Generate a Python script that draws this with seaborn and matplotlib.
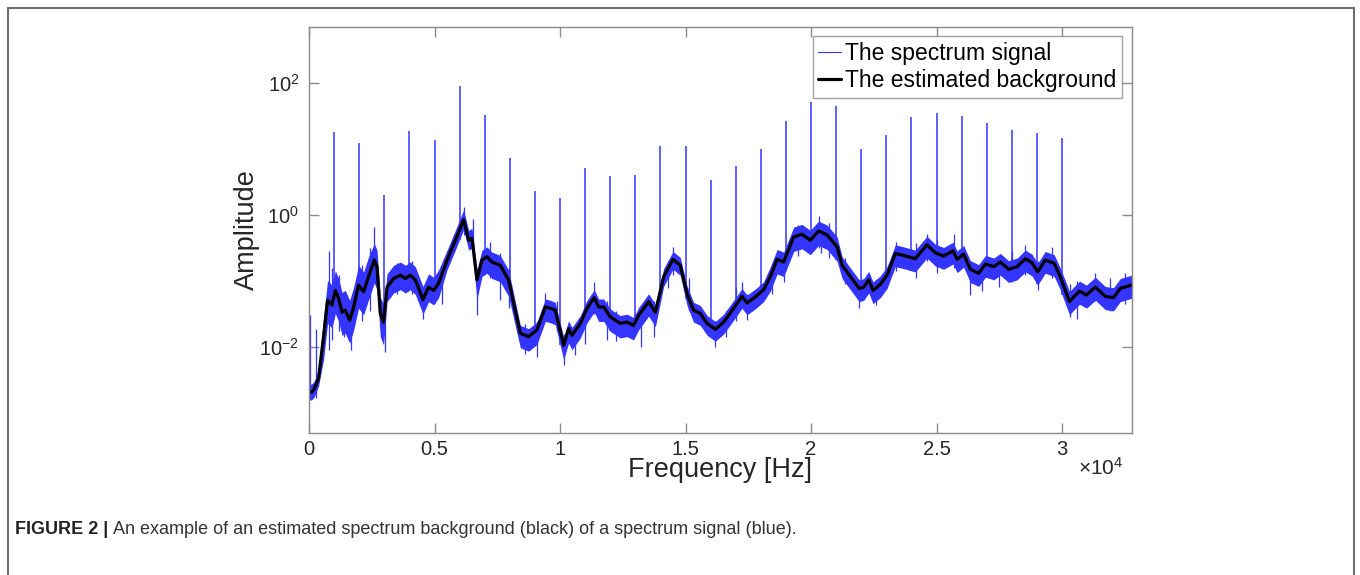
import numpy as np
import pandas as pd
import matplotlib
matplotlib.use("Agg")
import matplotlib.pyplot as plt
import seaborn as sns
from matplotlib.patches import Rectangle

# Estimated background (black), log10 of amplitude
bg_freq = [0, 100, 200, 380, 580, 740, 915, 1050, 1180, 1315, 1445, 1620, 1780, 1975,
           2175, 2375, 2600, 2710, 2840, 2970, 3110, 3370, 3640, 3840, 4035, 4235, 4540,
           4765, 4965, 5165, 5500, 5830, 6160, 6360, 6495, 6690, 6890, 7090, 7290, 7620,
           7950, 8420, 8750, 9080, 9415, 9615, 9810, 10145, 10340, 10480, 10810, 11075,
           11365, 11540, 11740, 12000, 12400, 12670, 12930, 13130, 13530, 13800, 14130,
           14500, 14790, 15060, 15320, 15590, 15860, 16190, 16520, 16920, 17250, 17450,
           17780, 18110, 18380, 18650, 18910, 19310, 19640, 19970, 20300, 20640, 21040,
           21240, 21570, 21920, 22100, 22300, 22470, 22760, 23030, 23360, 23690, 24150,
           24620, 24950, 25280, 25660, 25820, 26080, 26350, 26680, 26950, 27280, 27540,
           27870, 28210, 28540, 28800, 29030, 29330, 29690, 29930, 30130, 30300, 30460,
           30700, 30970, 31330, 31720, 32050, 32320, 32768]
bg_log = [-2.68, -2.68, -2.64, -2.47, -1.84, -1.29, -1.36, -1.14, -1.26, -1.47, -1.44, -1.59,
          -1.39, -1.06, -1.16, -0.93, -0.68, -0.78, -1.49, -1.62, -1.09, -0.96, -0.91, -0.96,
          -0.91, -0.98, -1.28, -1.09, -1.14, -1.03, -0.68, -0.38, -0.07, -0.38, -0.35, -0.98,
          -0.68, -0.63, -0.71, -0.76, -0.98, -1.79, -1.84, -1.74, -1.39, -1.41, -1.44, -1.97,
          -1.72, -1.82, -1.64, -1.41, -1.25, -1.39, -1.39, -1.54, -1.64, -1.62, -1.67, -1.52,
          -1.31, -1.47, -0.93, -0.67, -0.76, -1.19, -1.44, -1.49, -1.64, -1.73, -1.62, -1.41,
          -1.23, -1.33, -1.24, -1.13, -0.93, -0.67, -0.71, -0.33, -0.29, -0.38, -0.24, -0.30,
          -0.48, -0.76, -0.93, -1.11, -1.09, -0.98, -1.14, -1.05, -0.91, -0.58, -0.61, -0.66,
          -0.45, -0.57, -0.62, -0.54, -0.67, -0.59, -0.82, -0.88, -0.74, -0.78, -0.71, -0.82,
          -0.78, -0.66, -0.72, -0.86, -0.68, -0.73, -0.93, -1.14, -1.31, -1.24, -1.15, -1.21,
          -1.09, -1.23, -1.25, -1.11, -1.06]

# Upper / lower edge of the blue noise band (log10), same frequencies
band_hi = [-2.56, -2.56, -2.52, -2.35, -1.54, -0.99, -1.06, -0.84, -0.96, -1.17, -1.14, -1.29,
           -1.09, -0.76, -0.86, -0.63, -0.43, -0.53, -1.24, -1.37, -0.89, -0.76, -0.71, -0.76,
           -0.71, -0.78, -1.08, -0.89, -0.94, -0.83, -0.53, -0.23, 0.08, -0.23, -0.20, -0.83,
           -0.53, -0.48, -0.56, -0.61, -0.83, -1.67, -1.72, -1.62, -1.27, -1.29, -1.32, -1.85,
           -1.60, -1.70, -1.52, -1.29, -1.13, -1.27, -1.27, -1.42, -1.52, -1.50, -1.55, -1.40,
           -1.19, -1.35, -0.81, -0.55, -0.64, -1.07, -1.32, -1.37, -1.52, -1.61, -1.50, -1.29,
           -1.11, -1.21, -1.12, -1.01, -0.78, -0.52, -0.56, -0.18, -0.14, -0.23, -0.09, -0.15,
           -0.33, -0.63, -0.80, -0.98, -0.96, -0.85, -1.01, -0.92, -0.78, -0.45, -0.48, -0.53,
           -0.32, -0.44, -0.49, -0.41, -0.54, -0.46, -0.69, -0.75, -0.61, -0.65, -0.58, -0.69,
           -0.65, -0.53, -0.59, -0.73, -0.55, -0.60, -0.80, -0.99, -1.16, -1.09, -1.00, -1.06,
           -0.94, -1.08, -1.10, -0.96, -0.91]
band_lo = [-2.80, -2.80, -2.76, -2.59, -2.19, -1.64, -1.71, -1.49, -1.61, -1.82, -1.79, -1.94,
           -1.74, -1.41, -1.51, -1.28, -1.03, -1.13, -1.84, -1.97, -1.31, -1.18, -1.13, -1.18,
           -1.13, -1.20, -1.50, -1.31, -1.36, -1.25, -0.83, -0.53, -0.22, -0.53, -0.50, -1.28,
           -0.93, -0.88, -0.96, -1.01, -1.23, -2.01, -2.06, -1.96, -1.61, -1.63, -1.66, -2.19,
           -1.94, -2.04, -1.86, -1.63, -1.47, -1.61, -1.61, -1.76, -1.86, -1.84, -1.89, -1.74,
           -1.53, -1.69, -1.08, -0.82, -0.91, -1.37, -1.62, -1.67, -1.82, -1.91, -1.80, -1.59,
           -1.41, -1.51, -1.42, -1.31, -1.15, -0.89, -0.93, -0.55, -0.51, -0.60, -0.46, -0.52,
           -0.70, -0.96, -1.13, -1.31, -1.29, -1.18, -1.34, -1.25, -1.11, -0.78, -0.81, -0.86,
           -0.65, -0.77, -0.82, -0.74, -0.87, -0.79, -1.02, -1.08, -0.94, -0.98, -0.91, -1.02,
           -0.98, -0.86, -0.92, -1.06, -0.88, -0.93, -1.13, -1.34, -1.51, -1.44, -1.35, -1.41,
           -1.29, -1.43, -1.45, -1.31, -1.26]

# Harmonic spikes: frequency [Hz] and peak amplitude
spike_freq = [1000, 2000, 3000, 4000, 5000, 6000, 7000, 8000, 9000, 10000, 11000, 12000,
              13000, 14000, 15000, 16000, 17000, 18000, 19000, 20000, 21000, 22000, 23000,
              24000, 25000, 26000, 27000, 28000, 29000, 30000]
spike_amp = [18.3, 12.2, 2.0, 18.7, 13.7, 90, 32.7, 7.3, 2.3, 1.83, 5.2, 3.9, 4.0, 11.1,
             11.1, 3.4, 5.5, 10.0, 26.6, 52, 45, 10.0, 16.3, 30.5, 35, 31.6, 24.8, 19.4,
             17.5, 14.7]

# Noise excursions visible in the blue band (log10 low / high)
noise_freq = [50, 270, 780, 915, 1380, 1660, 2600, 2900, 3020, 4540, 6160, 6540, 6690,
              7620, 7950, 9080, 9415, 10145, 10600, 11365, 11870, 13230, 13730, 14500,
              16190, 17250, 17450, 18910, 20300, 20400, 21900, 22600, 24620, 25700, 26350,
              27500, 28540, 29050, 30600, 31330,
              1200, 2100, 2450, 3500, 4100, 5300, 7200, 8600, 9900, 11000, 12250, 14300,
              15150, 16600, 17000, 18450, 19500, 20700, 21350, 23400, 24200, 25000, 26800,
              28000, 29600, 30300, 31900, 32500]
noise_lo = [-2.77, -2.77, -2.05, -1.89, -1.84, -2.05, -1.00, -1.84, -2.07, -1.57, -0.30,
            -0.60, -1.52, -1.29, -1.40, -2.15, -1.60, -2.27, -2.12, -1.50, -1.89, -2.00,
            -1.84, -0.90, -2.00, -1.40, -1.59, -1.01, -0.50, -0.58, -1.41, -1.36, -0.70,
            -0.80, -1.21, -1.09, -0.90, -1.14, -1.57, -1.30,
            -1.75, -1.60, -1.45, -1.20, -1.20, -1.35, -0.95, -2.10, -1.75, -1.95, -1.90,
            -1.10, -1.45, -1.85, -1.60, -1.20, -0.62, -0.65, -1.05, -0.85, -0.95, -0.88,
            -1.15, -1.02, -0.95, -1.55, -1.45, -1.35]
noise_hi = [-1.52, -1.73, -0.55, -0.80, -1.20, -1.30, -0.18, -1.30, -1.40, -1.10, 0.13,
            -0.06, -0.80, -0.57, -0.80, -1.60, -1.18, -1.80, -1.70, -1.01, -1.30, -1.40,
            -1.30, -0.48, -1.60, -1.01, -1.20, -0.60, -0.02, -0.20, -1.00, -1.00, -0.28,
            -0.29, -0.70, -0.60, -0.45, -0.70, -1.00, -0.88,
            -0.90, -0.75, -0.50, -0.72, -0.70, -0.85, -0.40, -1.65, -1.30, -1.45, -1.45,
            -0.70, -0.95, -1.45, -1.10, -0.75, -0.15, -0.12, -0.65, -0.40, -0.42, -0.38,
            -0.72, -0.55, -0.48, -1.05, -0.95, -0.88]

xtick_vals = [0, 5000, 10000, 15000, 20000, 25000, 30000]
xtick_labels = ["0", "0.5", "1", "1.5", "2", "2.5", "3"]
ytick_vals = [1e-2, 1e0, 1e2]

sns.set_theme(style="white")
plt.rcParams["font.family"] = ["Liberation Sans", "DejaVu Sans"]
plt.rcParams["mathtext.fontset"] = "custom"
plt.rcParams["mathtext.rm"] = "Liberation Sans"
plt.rcParams["mathtext.it"] = "Liberation Sans:italic"
plt.rcParams["axes.unicode_minus"] = False

blue = "#3434ff"
axis_gray = "#8a8a8a"
text_col = "#262626"

df = pd.DataFrame({"freq": bg_freq, "amp": 10.0 ** np.array(bg_log)})

fig = plt.figure(figsize=(13.6, 5.75), dpi=100)
ax = fig.add_axes([309 / 1360, 1 - 433 / 575, 822.5 / 1360, 406 / 575])
ax.set_yscale("log")

# blue spectrum: noise band + excursions + harmonic spikes
ax.fill_between(bg_freq, 10.0 ** np.array(band_lo), 10.0 ** np.array(band_hi),
                color=blue, lw=0)
ax.vlines(noise_freq, 10.0 ** np.array(noise_lo), 10.0 ** np.array(noise_hi),
          color=blue, lw=0.9)
spike_base = 10.0 ** np.interp(spike_freq, bg_freq, band_lo)
ax.vlines(spike_freq, spike_base, spike_amp, color=blue, lw=1.1)

sns.lineplot(data=df, x="freq", y="amp", color="black", lw=2.3, ax=ax,
             estimator=None, sort=False)

ax.set_xlim(0, 32768)
ax.set_ylim(10 ** -3.30, 10 ** 2.85)
ax.set_xticks(xtick_vals)
ax.set_xticklabels(xtick_labels)
ax.set_yticks(ytick_vals)
ax.yaxis.set_minor_locator(matplotlib.ticker.NullLocator())
ax.tick_params(axis="both", which="major", direction="in", length=7, width=1,
               color=axis_gray, labelsize=14.5, labelcolor=text_col,
               top=True, right=True, bottom=True, left=True)
ax.tick_params(axis="x", pad=5)
ax.tick_params(axis="y", pad=7)
for s in ax.spines.values():
    s.set_color(axis_gray)
    s.set_linewidth(1)

ax.set_xlabel("Frequency [Hz]", fontsize=19.5, color=text_col)
ax.set_ylabel("Amplitude", fontsize=19.5, color=text_col)
ax.xaxis.set_label_coords(0.5, -0.058)
ax.yaxis.set_label_coords(-0.060, 0.5)

fig.text(1078 / 1360, 1 - 468 / 575, r"$\times10^{4}$", fontsize=15, color=text_col,
         va="center", ha="left")

h_sig, = ax.plot([], [], color=blue, lw=0.8)
h_bg, = ax.plot([], [], color="black", lw=2.3)
leg = ax.legend([h_sig, h_bg], ["The spectrum signal", "The estimated background"],
                loc="upper right", bbox_to_anchor=(1121.7 / 1360, 1 - 36 / 575),
                bbox_transform=fig.transFigure, fontsize=16.5, frameon=True,
                fancybox=False, handlelength=1.0, handletextpad=0.15,
                borderpad=0.25, labelspacing=0.2, borderaxespad=0)
leg.get_frame().set_edgecolor(axis_gray)
leg.get_frame().set_linewidth(1)
for t in leg.get_texts():
    t.set_color("black")

# panel border and caption
fig.patches.append(Rectangle((8 / 1360, -0.1), 1346 / 1360, 1.1 - 8 / 575,
                             transform=fig.transFigure, fill=False,
                             edgecolor="#6e6e6e", lw=1.5))
cap_y = 1 - 529 / 575
t1 = fig.text(15 / 1360, cap_y, "FIGURE 2 |", fontsize=13, fontweight="bold",
              color="#222222", va="center", ha="left")
fig.canvas.draw()
bb = t1.get_window_extent(renderer=fig.canvas.get_renderer())
fig.text(bb.x1 / 1360 + 5 / 1360, cap_y,
         "An example of an estimated spectrum background (black) of a spectrum signal (blue).",
         fontsize=13, color="#333333", va="center", ha="left")

fig.savefig("out.png", dpi=100)
